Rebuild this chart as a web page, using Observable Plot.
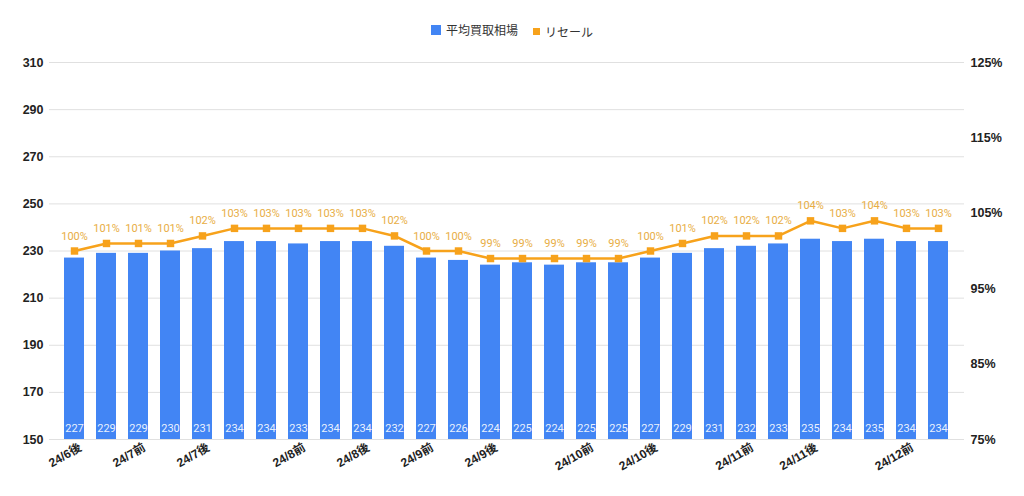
<!DOCTYPE html>
<html>
<head>
<meta charset="utf-8">
<script src="https://cdn.jsdelivr.net/npm/d3@7"></script>
<script src="https://cdn.jsdelivr.net/npm/@observablehq/plot@0.6"></script>
<style>
  body { margin: 0; background: #fff; font-family: Roboto, "Noto Sans CJK JP", sans-serif; }
  #wrap { position: relative; width: 1024px; height: 496px; }
  #legend { position: absolute; top: 21px; left: 0; width: 1024px; text-align: center; font-size: 12px; color: #333; font-family: Roboto, "Noto Sans CJK JP", sans-serif; }
  #legend span.item { display: inline-flex; align-items: center; margin: 0 6px; }
  #legend i { display: inline-block; margin-right: 5px; }
</style>
</head>
<body>
<div id="wrap">
  <div id="legend">
    <span class="item"><i style="width:10px;height:10px;background:#4285f4"></i>平均買取相場</span>
    <span class="item"><i style="width:7px;height:7px;background:#f7a21b"></i>リセール</span>
  </div>
  <div id="chart"></div>
</div>
<script>
// Periods (one per bar); labels shown only at tickIndices
const periods = ["24/6後","24/7前","24/7前","24/7前","24/7後","24/7後","24/7後","24/8前","24/8前","24/8後","24/8後","24/9前","24/9前","24/9後","24/9後","24/9後","24/10前","24/10前","24/10後","24/10後","24/10後","24/11前","24/11前","24/11後","24/11後","24/11後","24/12前","24/12前"];
const tickIndices = [0, 2, 4, 7, 9, 11, 13, 16, 18, 21, 23, 26];
const avgPrice = [227,229,229,230,231,234,234,233,234,234,232,227,226,224,225,224,225,225,227,229,231,232,233,235,234,235,234,234];
const resale = [100,101,101,101,102,103,103,103,103,103,102,100,100,99,99,99,99,99,100,101,102,102,102,104,103,104,103,103];
const leftTicks = [150,170,190,210,230,250,270,290,310];
const rightTicks = [75,85,95,105,115,125];

const leftMin = 150, leftMax = 310, rightMin = 75, rightMax = 125;
const toLeft = p => leftMin + (p - rightMin) * (leftMax - leftMin) / (rightMax - rightMin);
const fromLeft = v => rightMin + (v - leftMin) * (rightMax - rightMin) / (leftMax - leftMin);

const data = periods.map((p, i) => ({i, period: p, avg: avgPrice[i], resale: resale[i], resaleL: toLeft(resale[i])}));

const font = "Roboto, 'Noto Sans CJK JP', sans-serif";
const axisFont = "'Liberation Sans', Arial, 'Noto Sans CJK JP', sans-serif";

const chart = Plot.plot({
  width: 1024,
  height: 496,
  marginLeft: 49,
  marginRight: 60,
  marginTop: 62,
  marginBottom: 57,
  style: {fontFamily: font, fontSize: "12px", background: "transparent"},
  x: {type: "band", domain: d3.range(periods.length), padding: 0.36, axis: null, label: null},
  y: {domain: [leftMin, leftMax], axis: null, label: null},
  marks: [
    Plot.gridY(leftTicks, {stroke: "#e0e0e0", strokeOpacity: 1}),
    Plot.barY(data, {x: "i", y1: leftMin, y2: "avg", fill: "#4285f4"}),
    Plot.text(data, {x: "i", y: leftMin, text: d => String(d.avg), dy: -11, fill: "#ffffff", fillOpacity: 0.9, fontSize: 11}),
    Plot.line(data, {x: "i", y: "resaleL", stroke: "#f7a21b", strokeWidth: 2.5}),
    Plot.dot(data, {x: "i", y: "resaleL", symbol: "square", r: 4.2, fill: "#f7a21b", stroke: "none"}),
    Plot.text(data, {x: "i", y: "resaleL", text: d => d.resale + "%", dy: -15, fill: "#e8ae45", fontSize: 11}),
    Plot.axisY(leftTicks, {anchor: "left", label: null, tickSize: 0, tickPadding: 6, fill: "#222", fontSize: 12.5, fontFamily: axisFont, fontWeight: "bold"}),
    Plot.axisY(rightTicks.map(toLeft), {anchor: "right", label: null, tickSize: 0, tickPadding: 6, tickFormat: v => Math.round(fromLeft(v)) + "%", fill: "#222", fontSize: 12.5, fontFamily: axisFont, fontWeight: "bold", textAnchor: "start"}),
    Plot.axisX(tickIndices, {label: null, tickSize: 0, tickPadding: 7, tickRotate: -30, tickFormat: i => periods[i], fill: "#222", fontSize: 12, fontFamily: axisFont, fontWeight: "bold", dx: 6})
  ]
});
document.getElementById("chart").appendChild(chart);
</script>
</body>
</html>
